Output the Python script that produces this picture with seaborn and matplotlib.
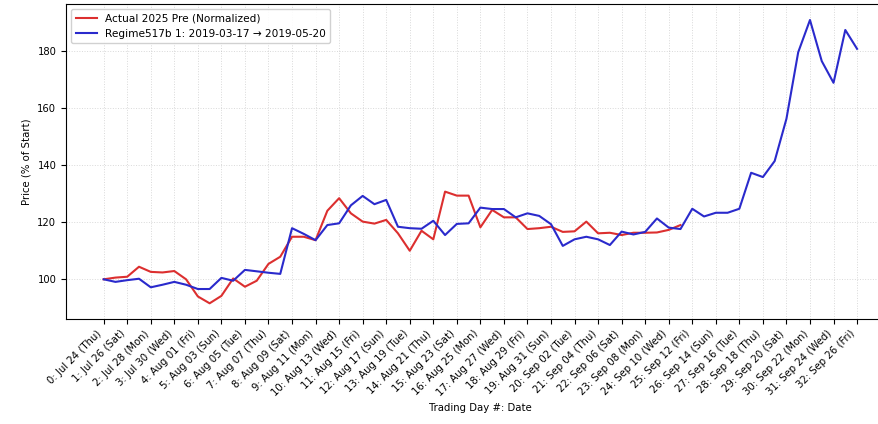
import matplotlib
matplotlib.use("Agg")
import matplotlib.pyplot as plt
import seaborn as sns
import pandas as pd

# Dados (índice = dia, % do início)
actual_vals = [100, 100.6, 100.9, 104.4, 102.6, 102.4, 102.9, 100, 94, 91.6,
               94.2, 100.3, 97.4, 99.5, 105.4, 107.9, 114.9, 114.9, 113.7, 124,
               128.4, 123.1, 120.2, 119.5, 120.8, 116.1, 110, 117, 114, 130.7,
               129.3, 129.3, 118.2, 124.3, 121.7, 121.7, 117.6, 117.9, 118.4, 116.6,
               116.8, 120.2, 116.1, 116.3, 115.5, 116.3, 116.3, 116.4, 117.3, 119]

regime_vals = [100, 99.1, 99.7, 100.2, 97.2, 98.1, 99.1, 98.1, 96.6, 96.6,
               100.5, 99.5, 103.3, 102.8, 102.3, 101.9, 117.9, 115.9, 113.7, 119,
               119.6, 125.9, 129.2, 126.3, 127.8, 118.4, 117.9, 117.7, 120.5, 115.5,
               119.4, 119.6, 125.1, 124.6, 124.6, 121.7, 123.1, 122.2, 119.3, 111.7,
               114, 114.9, 114, 112, 116.7, 115.7, 116.6, 121.3, 118.1, 117.6,
               124.7, 122, 123.3, 123.3, 124.7, 137.3, 135.8, 141.4, 156.2, 179.5,
               190.8, 176.4, 168.8, 187.3, 180.7]

tick_labels = [
    "0: Jul 24 (Thu)", "1: Jul 26 (Sat)", "2: Jul 28 (Mon)", "3: Jul 30 (Wed)",
    "4: Aug 01 (Fri)", "5: Aug 03 (Sun)", "6: Aug 05 (Tue)", "7: Aug 07 (Thu)",
    "8: Aug 09 (Sat)", "9: Aug 11 (Mon)", "10: Aug 13 (Wed)", "11: Aug 15 (Fri)",
    "12: Aug 17 (Sun)", "13: Aug 19 (Tue)", "14: Aug 21 (Thu)", "15: Aug 23 (Sat)",
    "16: Aug 25 (Mon)", "17: Aug 27 (Wed)", "18: Aug 29 (Fri)", "19: Aug 31 (Sun)",
    "20: Sep 02 (Tue)", "21: Sep 04 (Thu)", "22: Sep 06 (Sat)", "23: Sep 08 (Mon)",
    "24: Sep 10 (Wed)", "25: Sep 12 (Fri)", "26: Sep 14 (Sun)", "27: Sep 16 (Tue)",
    "28: Sep 18 (Thu)", "29: Sep 20 (Sat)", "30: Sep 22 (Mon)", "31: Sep 24 (Wed)",
    "32: Sep 26 (Fri)",
]
tick_step = 2

actual_label = "Actual 2025 Pre (Normalized)"
regime_label = "Regime517b 1: 2019-03-17 \u2192 2019-05-20"

plt.style.use('default')

df_actual = pd.DataFrame({"dia": range(len(actual_vals)), "preco": actual_vals})
df_regime = pd.DataFrame({"dia": range(len(regime_vals)), "preco": regime_vals})

fig = plt.figure(figsize=(8.79, 4.24), dpi=100)
# eixo cortado à direita como no original
ax = fig.add_axes([0.0751, 0.2483, 0.9428, 0.7423])

sns.lineplot(data=df_actual, x="dia", y="preco", ax=ax, color='#dc2f2f',
             linewidth=1.5, label=actual_label)
sns.lineplot(data=df_regime, x="dia", y="preco", ax=ax, color='#2a2acc',
             linewidth=1.5, label=regime_label)

ticks = list(range(0, len(tick_labels) * tick_step, tick_step))
ax.set_xticks(ticks)
ax.set_xticklabels(tick_labels, rotation=45, ha='right', fontsize=7.3)
ax.tick_params(axis='y', labelsize=7.2)
ax.set_xlim(-3.2, 67.2)
ax.set_ylim(86.2, 196.4)

ax.set_xlabel("Trading Day #: Date", fontsize=7.3)
ax.set_ylabel("Price (% of Start)", fontsize=7.3)
ax.grid(True, linestyle=':', alpha=0.3, color='gray', linewidth=0.7)

ax.legend(loc='upper left', fontsize=7.6, framealpha=0.9)

fig.savefig("out.png", dpi=100)
